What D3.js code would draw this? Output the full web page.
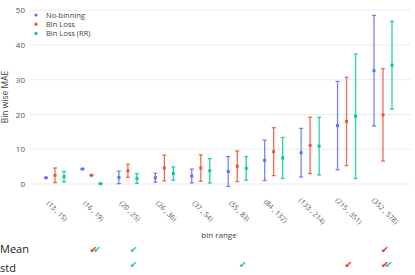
<!DOCTYPE html>
<html>
<head>
<meta charset="utf-8">
<script src="https://cdn.jsdelivr.net/npm/d3@7"></script>
<style>
  body { margin: 0; background: #fff; }
  text { font-family: "Open Sans", sans-serif; }
</style>
</head>
<body>
<svg id="chart"></svg>
<script>
// bin categories and per-series values
const bins = ['(13 , 15)', '(16 , 19)', '(20 , 25)', '(26 , 36)', '(37 , 54)',
              '(55 , 83)', '(84 , 132)', '(133 , 214)', '(215 , 351)', '(352 , 578)'];
const seriesNames = ['No-binning', 'Bin Loss', 'Bin Loss (RR)'];
const noBinMean = [1.8, 4.3, 1.9, 1.8, 2.3, 3.6, 6.8, 9.0, 16.8, 32.6];
const noBinErr  = [0, 0, 1.8, 1.3, 2.0, 4.3, 5.8, 7.0, 12.7, 15.9];
const binLossMean = [2.5, 2.5, 3.8, 4.6, 4.6, 5.1, 9.3, 11.1, 18.0, 19.9];
const binLossErr  = [2.1, 0, 1.9, 3.7, 3.8, 4.4, 6.9, 8.1, 12.7, 13.3];
const rrMean = [2.1, 0.1, 1.6, 3.0, 3.8, 4.5, 7.5, 10.9, 19.5, 34.2];
const rrErr  = [1.5, 0, 1.4, 1.9, 3.5, 3.4, 5.9, 8.3, 17.9, 12.6];
const yTicks = [0, 10, 20, 30, 40, 50];

// check marks: which bin wins per row (series: 1 = Bin Loss, 2 = Bin Loss (RR))
const meanChecks = [{bin: '(16 , 19)', s: 1}, {bin: '(16 , 19)', s: 2},
                    {bin: '(20 , 25)', s: 2}, {bin: '(352 , 578)', s: 1}];
const stdChecks = [{bin: '(20 , 25)', s: 2}, {bin: '(55 , 83)', s: 2},
                   {bin: '(215 , 351)', s: 1}, {bin: '(352 , 578)', s: 1},
                   {bin: '(352 , 578)', s: 2}];

const colors = ['#636efa', '#ef553b', '#00cc96'];
const checkColors = ['#636efa', '#ff1a1a', '#1bcc92'];

const width = 415, height = 275;
const svg = d3.select('#chart').attr('width', width).attr('height', height);

const x = d3.scalePoint().domain(bins).range([55, 383]);
const y = d3.scaleLinear().domain([0, 50]).range([184, 10.2]);
const offset = [-9, 0, 9];

// gridlines
svg.append('g')
  .selectAll('line')
  .data(yTicks)
  .enter()
  .append('line')
  .attr('x1', 30).attr('x2', 411)
  .attr('y1', d => y(d)).attr('y2', d => y(d))
  .attr('stroke', '#ebebeb')
  .attr('stroke-width', 1);

// y axis labels
const yAxis = svg.append('g')
  .attr('transform', 'translate(30,0)')
  .call(d3.axisLeft(y).tickValues(yTicks).tickSize(0).tickPadding(5));
yAxis.select('.domain').remove();
yAxis.selectAll('text')
  .style('font-family', '"Open Sans", sans-serif')
  .style('font-size', '8px')
  .attr('fill', '#555');

svg.append('text')
  .attr('transform', 'translate(8,97) rotate(-90)')
  .attr('text-anchor', 'middle')
  .style('font-size', '8.5px')
  .attr('fill', '#444')
  .text('Bin wise MAE');

// x tick labels, rotated
svg.append('g')
  .selectAll('text')
  .data(bins)
  .enter()
  .append('text')
  .attr('transform', d => 'translate(' + (x(d) + 2) + ',211) rotate(45)')
  .attr('text-anchor', 'middle')
  .attr('dy', '0.35em')
  .style('font-size', '7px')
  .attr('fill', '#555')
  .text(d => d);

svg.append('text')
  .attr('x', 219).attr('y', 238)
  .attr('text-anchor', 'middle')
  .style('font-size', '8px')
  .attr('fill', '#444')
  .text('bin range');

// error bars + markers
const series = [
  {mean: noBinMean, err: noBinErr},
  {mean: binLossMean, err: binLossErr},
  {mean: rrMean, err: rrErr}
];

series.forEach((s, k) => {
  const data = bins.map((b, i) => ({bin: b, m: s.mean[i], e: s.err[i]}));
  const g = svg.append('g');
  const cx = d => x(d.bin) + offset[k];

  g.selectAll('.stem').data(data).enter().append('line')
    .attr('x1', cx).attr('x2', cx)
    .attr('y1', d => y(d.m - d.e)).attr('y2', d => y(d.m + d.e))
    .attr('stroke', colors[k]).attr('stroke-width', 1.3).attr('opacity', 0.85);

  [1, -1].forEach(sign => {
    g.selectAll('.cap').data(data).enter().append('line')
      .attr('x1', d => cx(d) - 2).attr('x2', d => cx(d) + 2)
      .attr('y1', d => y(d.m + sign * d.e)).attr('y2', d => y(d.m + sign * d.e))
      .attr('stroke', colors[k]).attr('stroke-width', 1.3).attr('opacity', 0.85);
  });

  g.selectAll('rect').data(data).enter().append('rect')
    .attr('x', d => cx(d) - 1.5).attr('y', d => y(d.m) - 1.5)
    .attr('width', 3).attr('height', 3)
    .attr('fill', colors[k]);
});

// legend
const legend = svg.append('g');
seriesNames.forEach((name, k) => {
  legend.append('circle')
    .attr('cx', 36).attr('cy', 15 + k * 9.2).attr('r', 1.6)
    .attr('fill', colors[k]);
  legend.append('text')
    .attr('x', 46).attr('y', 15 + k * 9.2).attr('dy', '0.35em')
    .style('font-size', '7.5px')
    .attr('fill', '#444')
    .text(name);
});

// Mean / std rows with check marks
svg.append('text').attr('x', 0).attr('y', 253)
  .style('font-size', '11px').attr('fill', '#222').text('Mean');
svg.append('text').attr('x', 0).attr('y', 272)
  .style('font-size', '11px').attr('fill', '#222').text('std');

const checkDx = [0, 2, 5.5];
function drawChecks(list, yPos) {
  svg.append('g')
    .selectAll('text')
    .data(list)
    .enter()
    .append('text')
    .attr('x', d => x(d.bin) + checkDx[d.s])
    .attr('y', yPos)
    .attr('text-anchor', 'middle')
    .style('font-family', '"DejaVu Sans", sans-serif')
    .style('font-size', '9.5px')
    .style('font-weight', 'bold')
    .attr('fill', d => checkColors[d.s])
    .text('\u2714');
}
drawChecks(meanChecks, 253);
drawChecks(stdChecks, 268);
</script>
</body>
</html>
